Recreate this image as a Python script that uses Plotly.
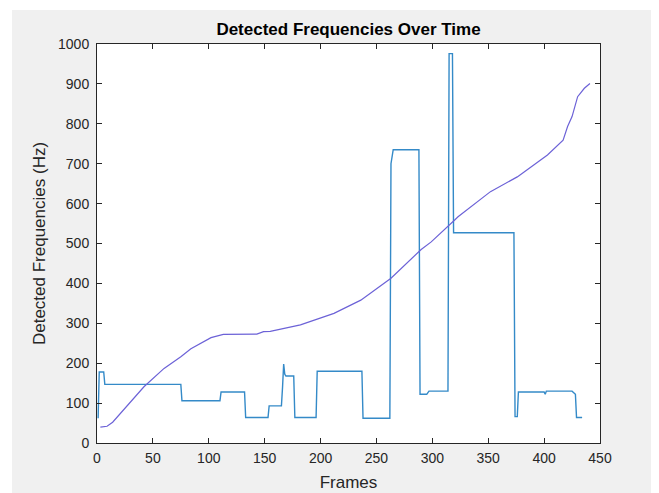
import plotly.graph_objects as go

# Detected frequency (step-like series)
det_frames = [1, 2, 6, 7, 75, 76, 110, 111, 131, 132, 133, 153, 154, 165, 166, 167, 168, 169, 176, 177,
              196, 197, 237, 238, 262, 263, 265, 288, 289, 295, 297, 314, 315, 318, 319, 373, 374, 376, 377,
              400, 401, 402, 425, 428, 429, 434]
det_values = [62, 178, 178, 147, 147, 106, 106, 128, 128, 128, 64, 64, 93, 93, 140, 198, 172, 168, 168, 64,
              64, 180, 180, 62, 62, 700, 735, 735, 122, 122, 130, 130, 976, 976, 527, 527, 66, 66, 128,
              128, 122, 130, 130, 122, 64, 64]

# Smooth reference curve
ref_frames = [3, 9, 14, 24, 42, 60, 75, 84, 93, 102, 113, 143, 149, 155, 182, 212, 236, 263, 290, 299,
              320, 323, 352, 376, 403, 417, 421, 425, 430, 436, 441]
ref_values = [40, 42, 52, 83, 141, 187, 216, 236, 251, 264, 272, 273, 279, 280, 296, 325, 358, 413, 485, 504,
              559, 567, 630, 667, 722, 759, 793, 818, 868, 889, 901]

x_ticks = [0, 50, 100, 150, 200, 250, 300, 350, 400, 450]
y_ticks = [0, 100, 200, 300, 400, 500, 600, 700, 800, 900, 1000]

FONT = "Liberation Sans, Arial, Helvetica"

fig = go.Figure()
fig.add_trace(go.Scatter(x=det_frames, y=det_values, mode="lines",
                         line=dict(color="rgb(52,138,200)", width=1.4), showlegend=False))
fig.add_trace(go.Scatter(x=ref_frames, y=ref_values, mode="lines",
                         line=dict(color="rgb(108,98,215)", width=1.2), showlegend=False))

axis_common = dict(showgrid=False, zeroline=False, showline=True, linecolor="#262626", linewidth=1,
                   mirror="ticks", ticks="inside", ticklen=5, tickcolor="#262626", tickwidth=1,
                   tickfont=dict(family=FONT, size=14, color="#262626"))

# page body has an 8px margin; margins below are relative to the figure
L, R, T, B = 89, 67, 36, 58
PW, PH = 659 - L - R, 493 - T - B

fig.update_layout(
    width=659, height=493,
    margin=dict(l=L, r=R, t=T, b=B),
    paper_bgcolor="#f0f0f0", plot_bgcolor="white",
    title=dict(text="<b>Detected Frequencies Over Time</b>", x=0.5, xref="paper", y=1, yref="paper",
               yanchor="bottom", pad=dict(b=9),
               font=dict(family=FONT, size=17, color="#000000")),
    xaxis=dict(range=[0, 450], tickvals=x_ticks, ticklabelstandoff=2,
               title=dict(text="Frames", font=dict(family=FONT, size=17, color="#262626"), standoff=11),
               **axis_common),
    yaxis=dict(range=[0, 1000], tickvals=y_ticks, ticklabelstandoff=4,
               title=dict(text="Detected Frequencies (Hz)", font=dict(family=FONT, size=17, color="#262626"),
                          standoff=8),
               **axis_common),
    shapes=[
        dict(type="rect", xref="paper", yref="paper", x0=-0.5, x1=1.5, y0=(PH + T - 2) / PH, y1=1.5,
             fillcolor="white", line=dict(width=0), layer="above"),
        dict(type="rect", xref="paper", yref="paper", x0=-0.5, x1=(4 - L) / PW, y0=-0.5, y1=1.5,
             fillcolor="white", line=dict(width=0), layer="above"),
    ],
)

fig.write_html("out.html")
